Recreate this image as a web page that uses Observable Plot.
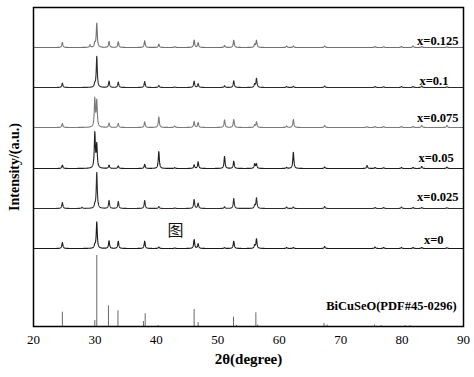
<!DOCTYPE html>
<html><head><meta charset="utf-8">
<script src="https://cdn.jsdelivr.net/npm/d3@7"></script>
<script src="https://cdn.jsdelivr.net/npm/@observablehq/plot@0.6"></script>
<style>body{margin:0;background:#fff}</style>
</head><body><div id="chart"></div>
<script>
// Samples (top to bottom)
const samples = ["x=0.125", "x=0.1", "x=0.075", "x=0.05", "x=0.025", "x=0"];
// Peak positions, 2θ (degree)
const peakPos = [24.7, 27.9, 29.2, 29.98, 30.3, 32.3, 33.8, 38.1, 40.4, 43.0, 46.15, 46.8, 51.1, 52.6, 56.0, 56.3, 61.2, 62.3, 67.4, 74.3, 75.6, 77.0, 79.9, 81.8, 83.2, 87.3];
// Peak intensities (a.u.) per sample
const int0125 = [5, 0, 2.5, 4, 24, 6, 5.7, 6.7, 3.3, 0.8, 7.3, 4.7, 2, 7.3, 3, 7, 1.5, 1.5, 1.5, 0, 1, 0.8, 1, 1.5, 1, 0.8];
const int0100 = [4.4, 0, 0, 3, 31, 6.4, 5.4, 6, 2, 0.5, 6.4, 3.7, 1.7, 6.7, 3, 9, 1, 1.2, 1.5, 0, 1, 0.8, 1, 1, 1.5, 0.8];
const int0075 = [4, 0, 0, 28, 26, 4.3, 4, 5.6, 10.6, 1.5, 6, 5, 7.6, 8, 2.5, 5.5, 1.5, 8, 2, 0.8, 1, 1, 1, 1, 2, 2];
const int0050 = [3.3, 0, 0, 35, 23, 3.3, 2.6, 4, 17, 0.8, 3.6, 6.6, 12, 7.3, 4.5, 4.5, 1, 16.3, 1.5, 3, 1, 0.8, 1, 1, 2, 1.5];
const int0025 = [6, 1.2, 0, 3, 36, 8, 7, 8, 2, 0.5, 9, 5.3, 1.7, 10, 3, 10.5, 1.5, 1.5, 2, 0, 1, 1, 1.5, 1, 1, 0.8];
const int0000 = [6, 0, 0, 3, 26.5, 7.6, 7.3, 7.3, 1.5, 0.5, 9, 4.6, 0.8, 7.3, 3, 9.5, 1, 1, 2, 0, 1.5, 1, 1, 1, 1, 0.8];
const intensities = [int0125, int0100, int0075, int0050, int0025, int0000];
// Stacking offsets of each pattern (a.u.)
const offsets = [279, 239, 199, 158, 118, 78];
// Standard card BiCuSeO (PDF#45-0296)
const refPos = [24.7, 29.98, 30.3, 32.2, 33.75, 37.9, 38.18, 40.3, 46.15, 46.8, 52.56, 53.05, 56.2, 56.5, 67.3, 67.8, 75.5, 76.6, 80.5, 81.3];
const refInt = [14.3, 6, 71, 20.7, 15.7, 5, 12.7, 1, 17, 4, 9.3, 1, 13.7, 1.5, 3, 1.5, 1.5, 1, 1, 1];
const refLabel = "BiCuSeO(PDF#45-0296)";
const xTicks = [20, 30, 40, 50, 60, 70, 80, 90];
const colors = ["#707070", "#2a2a2a", "#7a7a7a", "#1e1e1e", "#2e2e2e", "#1a1a1a"];

// Build profile curves (Lorentzian peak shape) on a 2θ grid
const hw = 0.1;
const grid = d3.range(0, 3501).map(i => 20 + i * 0.02);
const curves = [];
samples.forEach((s, k) => {
  const I = intensities[k];
  for (const x of grid) {
    let v = 0;
    for (let j = 0; j < peakPos.length; j++) {
      if (I[j] === 0) continue;
      const t = (x - peakPos[j]) / hw;
      v += I[j] / (1 + t * t);
    }
    curves.push({sample: s, x, y: offsets[k] + v});
  }
});
const refData = refPos.map((p, i) => ({pos: p, I: refInt[i]}));

const labelTexts = [...samples, refLabel];
const labelX = [89.2, 87.55, 89.2, 88.4, 89.2, 86.75, 88.9];
const labelY = [286, 246, 208.3, 168.3, 129.3, 86.7, 21];
const labels = labelTexts.map((t, i) => ({t, x: labelX[i], y: labelY[i]}));

const serif = "'Liberation Serif', 'Times New Roman', 'DejaVu Serif', serif";
const chart = Plot.plot({
  width: 474, height: 377,
  marginLeft: 33, marginRight: 11, marginTop: 7, marginBottom: 51,
  style: {fontFamily: serif, fontSize: "13px", color: "#000", background: "#fff"},
  x: {domain: [20, 90], ticks: xTicks, tickSize: 0, tickPadding: 8, label: null},
  y: {domain: [0, 319], axis: null},
  color: {domain: samples, range: colors},
  marks: [
    Plot.ruleX(refData, {x: "pos", y1: 0, y2: "I", stroke: "#6a6a6a", strokeWidth: 1}),
    Plot.line(curves, {x: "x", y: "y", z: "sample", stroke: "sample", strokeWidth: 1.1}),
    Plot.text(labels, {x: "x", y: "y", text: "t", textAnchor: "end", fontWeight: "bold", fontSize: 12.5, fontFamily: serif, fill: "#000"}),
    Plot.text(["图"], {x: 43.1, y: 96, fontSize: 16, fontFamily: "'Noto Sans CJK SC', sans-serif", fill: "#111"}),
    Plot.text(["Intensity/(a.u.)"], {frameAnchor: "left", dx: -19, rotate: -90, textAnchor: "middle", fontWeight: "bold", fontSize: 14, fontFamily: serif, fill: "#000"}),
    Plot.text(["2θ(degree)"], {frameAnchor: "bottom", dy: 37, textAnchor: "middle", fontWeight: "bold", fontSize: 15, fontFamily: serif, fill: "#000"}),
    Plot.frame({stroke: "#000", strokeWidth: 1.5})
  ]
});
document.getElementById("chart").appendChild(chart);
</script>
</body></html>
